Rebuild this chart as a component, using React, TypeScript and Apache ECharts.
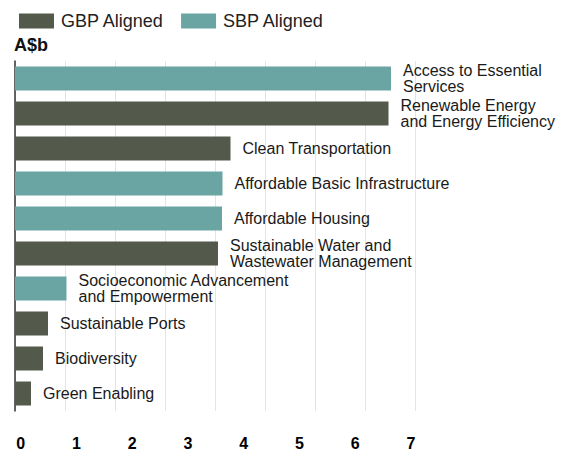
import React, { useEffect, useRef } from "react";
import * as echarts from "echarts";

const categories: string[] = [
  "Access to Essential\nServices",
  "Renewable Energy\nand Energy Efficiency",
  "Clean Transportation",
  "Affordable Basic Infrastructure",
  "Affordable Housing",
  "Sustainable Water and\nWastewater Management",
  "Socioeconomic Advancement\nand Empowerment",
  "Sustainable Ports",
  "Biodiversity",
  "Green Enabling",
];

// "G" = GBP Aligned, "S" = SBP Aligned
const alignment: string[] = ["S", "G", "G", "S", "S", "G", "S", "G", "G", "G"];
const values: number[] = [7.52, 7.47, 4.31, 4.15, 4.14, 4.06, 1.03, 0.66, 0.56, 0.32];
const tickLabels: number[] = [0, 1, 2, 3, 4, 5, 6, 7];
const seriesNames = { G: "GBP Aligned", S: "SBP Aligned" };

const GBP_COLOR = "#535a4b";
const SBP_COLOR = "#6aa5a3";
const FONT = "'Liberation Sans', Arial, Helvetica, sans-serif";

export default function App() {
  const ref = useRef<HTMLDivElement>(null);

  useEffect(() => {
    if (!ref.current) return;
    const chart = echarts.init(ref.current, undefined, { renderer: "svg" });

    const gbpData = values.map((v, i) => (alignment[i] === "G" ? v : "-"));
    const sbpData = values.map((v, i) => (alignment[i] === "S" ? v : "-"));

    const labelCfg = {
      show: true,
      position: "right",
      distance: 12,
      color: "#1a1a1a",
      fontSize: 16,
      lineHeight: 16,
      fontFamily: FONT,
      formatter: (p: any) => categories[p.dataIndex],
    };

    chart.setOption({
      animation: false,
      textStyle: { fontFamily: FONT },
      legend: {
        left: 14,
        top: 7,
        itemWidth: 35,
        itemHeight: 15,
        itemGap: 17,
        icon: "rect",
        textStyle: {
          fontSize: 18,
          color: "#222",
          fontFamily: FONT,
          padding: [0, 0, 0, 2],
        },
        data: [seriesNames.G, seriesNames.S],
      },
      graphic: [
        {
          type: "text",
          left: 14,
          top: 36,
          style: {
            text: "A$b",
            font: `bold 18px ${FONT}`,
            fill: "#111",
          },
        },
      ],
      grid: [
        { left: 15, top: 61, width: 400, height: 350, containLabel: false },
        { left: 20.7, top: 420, width: 390.3, height: 1, containLabel: false },
      ],
      xAxis: [
        {
          type: "value",
          gridIndex: 0,
          min: 0,
          max: 8,
          interval: 1,
          axisLine: { show: false },
          axisTick: { show: false },
          axisLabel: { show: false },
          splitLine: { show: true, lineStyle: { color: "#e4e4e4", width: 1 } },
        },
        {
          type: "value",
          gridIndex: 1,
          min: 0,
          max: 7,
          interval: 1,
          position: "bottom",
          axisLine: { show: false },
          axisTick: { show: false },
          splitLine: { show: false },
          axisLabel: {
            show: true,
            margin: 14,
            fontSize: 16,
            fontWeight: "bold",
            color: "#000",
            fontFamily: FONT,
            formatter: (v: number) => (tickLabels.includes(v) ? String(v) : ""),
          },
        },
      ],
      yAxis: [
        {
          type: "category",
          gridIndex: 0,
          inverse: true,
          data: categories,
          axisLine: { show: true, lineStyle: { color: "#333", width: 1.5 } },
          axisTick: { show: false },
          axisLabel: { show: false },
          splitLine: { show: false },
        },
        {
          type: "value",
          gridIndex: 1,
          show: false,
          min: 0,
          max: 1,
        },
      ],
      series: [
        {
          name: seriesNames.G,
          type: "bar",
          stack: "all",
          xAxisIndex: 0,
          yAxisIndex: 0,
          barWidth: 24,
          itemStyle: { color: GBP_COLOR },
          label: labelCfg,
          data: gbpData,
        },
        {
          name: seriesNames.S,
          type: "bar",
          stack: "all",
          xAxisIndex: 0,
          yAxisIndex: 0,
          barWidth: 24,
          itemStyle: { color: SBP_COLOR },
          label: labelCfg,
          data: sbpData,
        },
        {
          type: "scatter",
          xAxisIndex: 1,
          yAxisIndex: 1,
          data: [],
          silent: true,
        },
      ],
    });

    return () => chart.dispose();
  }, []);

  return (
    <div
      ref={ref}
      style={{ position: "fixed", left: 0, top: 0, width: 571, height: 452, background: "#fff" }}
    />
  );
}
